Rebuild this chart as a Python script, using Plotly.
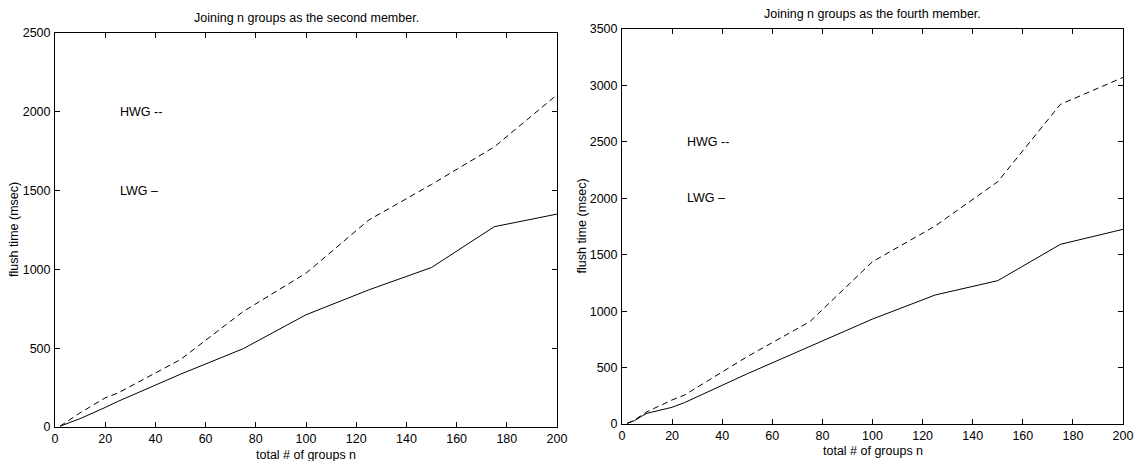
import plotly.graph_objects as go

# Number of groups joined
n_second = [2, 10, 20, 25, 50, 75, 100, 125, 150, 175, 200]
n_fourth = [2, 5, 8, 10, 20, 25, 50, 75, 100, 125, 150, 175, 200]

# Flush time (msec), joining as the second member
lwg_second = [5, 53, 124, 162, 335, 497, 712, 870, 1012, 1271, 1351]
hwg_second = [5, 90, 185, 215, 428, 733, 976, 1313, 1539, 1777, 2108]

# Flush time (msec), joining as the fourth member
lwg_fourth = [5, 30, 71, 95, 148, 190, 445, 690, 930, 1143, 1270, 1592, 1725]
hwg_fourth = [5, 35, 80, 109, 213, 257, 597, 907, 1438, 1754, 2147, 2832, 3071]

titles = ["Joining n groups as the second member.", "Joining n groups as the fourth member."]
y_max = [2500, 3500]
label_y = [(2000, 1500), (2500, 2000)]

W, H = 1134, 461
FONT = "Liberation Sans, Arial, Helvetica, sans-serif"
FS = 12.5

fig = go.Figure()

# Pixel boxes of the two axes: (left, right, top, bottom)
boxes = [(55, 557, 33, 427), (622, 1123, 29, 424)]
# Vertical offsets (px below axis) of the x-axis titles
xlabel_off = [28, 27]


def fx(px):
    return px / W


def fy(py):
    return (H - py) / H


series = [
    (n_second, lwg_second, hwg_second),
    (n_fourth, lwg_fourth, hwg_fourth),
]

for i, ((x, lwg, hwg), (l, r, t, b)) in enumerate(zip(series, boxes)):
    xa = "x" if i == 0 else "x2"
    ya = "y" if i == 0 else "y2"
    fig.add_trace(go.Scatter(x=x, y=lwg, mode="lines", xaxis=xa, yaxis=ya,
                             line=dict(color="black", width=1), name="LWG",
                             showlegend=False))
    fig.add_trace(go.Scatter(x=x, y=hwg, mode="lines", xaxis=xa, yaxis=ya,
                             line=dict(color="black", width=1, dash="6px,4px"),
                             name="HWG", showlegend=False))

    axis_common = dict(
        showgrid=False, zeroline=False, showline=True, linecolor="black",
        linewidth=1, mirror="ticks", ticks="inside", ticklen=5, tickcolor="black",
        tickwidth=1, automargin=False,
        tickfont=dict(family=FONT, size=FS, color="black"),
    )
    xkey = "xaxis" if i == 0 else "xaxis2"
    ykey = "yaxis" if i == 0 else "yaxis2"
    fig.update_layout(**{
        xkey: dict(axis_common, domain=[fx(l), fx(r)], range=[0, 200], dtick=20,
                   tick0=0, anchor=ya, ticklabelstandoff=0),
        ykey: dict(axis_common, domain=[fy(b), fy(t)], range=[0, y_max[i]],
                   dtick=500, tick0=0, anchor=xa, ticklabelstandoff=1),
    })

    # Titles and axis labels
    cx = (l + r) / 2
    fig.add_annotation(x=fx(cx), y=fy(t - 15), xref="paper", yref="paper",
                       text=titles[i], showarrow=False, xanchor="center",
                       yanchor="middle", font=dict(family=FONT, size=FS, color="black"))
    fig.add_annotation(x=fx(cx), y=fy(b + xlabel_off[i]), xref="paper", yref="paper",
                       text="total # of groups n", showarrow=False, xanchor="center",
                       yanchor="middle", font=dict(family=FONT, size=FS, color="black"))
    fig.add_annotation(x=fx(l - 41), y=fy((t + b) / 2), xref="paper", yref="paper",
                       text="flush time (msec)", showarrow=False, textangle=-90,
                       xanchor="center", yanchor="middle",
                       font=dict(family=FONT, size=FS, color="black"))

    # In-plot line labels
    hy, ly = label_y[i]
    fig.add_annotation(x=25, y=hy, xref=xa, yref=ya, text="HWG --", showarrow=False,
                       xanchor="left", yanchor="middle",
                       font=dict(family=FONT, size=FS, color="black"))
    fig.add_annotation(x=25, y=ly, xref=xa, yref=ya, text="LWG \u2013", showarrow=False,
                       xanchor="left", yanchor="middle",
                       font=dict(family=FONT, size=FS, color="black"))

fig.update_layout(
    template="none",
    width=W, height=H,
    margin=dict(l=0, r=0, t=0, b=0, pad=0),
    paper_bgcolor="white", plot_bgcolor="white",
    font=dict(family=FONT, size=FS, color="black"),
)

fig.write_html("out.html")
